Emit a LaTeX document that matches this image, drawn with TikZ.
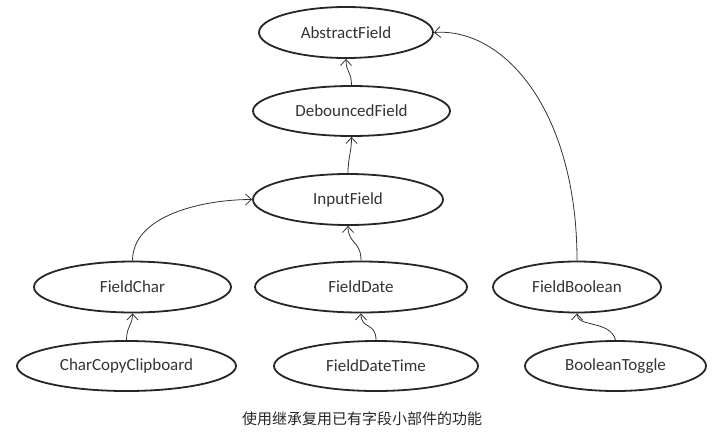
\documentclass[tikz,border=0pt]{standalone}
\usepackage{fontspec}
\setmainfont{Carlito}
\newfontfamily\cjk{Noto Sans CJK SC}
\usetikzlibrary{shapes.geometric,arrows.meta}
\tikzset{
  cls/.style={ellipse, draw=black!85, line width=1.8pt, inner sep=0pt,
    font=\fontsize{17}{19}\selectfont, text=black!80},
  edge/.style={draw=black!80, line width=0.8pt, -{Straight Barb[length=6pt,width=11pt]}},
}
\begin{document}
\begin{tikzpicture}[x=1pt,y=-1pt]
\useasboundingbox (0,0) rectangle (719,432);
\node[cls, minimum width=174pt, minimum height=51pt] (abs) at (346,32.5) {AbstractField};
\node[cls, minimum width=197pt, minimum height=50pt] (deb) at (351.5,111) {DebouncedField};
\node[cls, minimum width=190pt, minimum height=51pt] (inp) at (348,199.5) {InputField};
\node[cls, minimum width=197pt, minimum height=51pt] (fchar) at (132.5,287) {FieldChar};
\node[cls, minimum width=212pt, minimum height=51pt] (fdate) at (361,287) {FieldDate};
\node[cls, minimum width=168pt, minimum height=51pt] (fbool) at (577,287) {FieldBoolean};
\node[cls, minimum width=219pt, minimum height=50pt] (ccc) at (126.5,366) {CharCopyClipboard};
\node[cls, minimum width=204pt, minimum height=50pt] (fdt) at (376,366) {FieldDateTime};
\node[cls, minimum width=181pt, minimum height=50pt] (btog) at (615.5,366) {BooleanToggle};
\node[font=\cjk\fontsize{15}{17}\selectfont, text=black!85] (cap) at (362,419) {使用继承复用已有字段小部件的功能};

\draw[edge] (deb.north) .. controls +(0,-14) and +(0,14) .. (abs.south);
\draw[edge] (inp.north) .. controls +(0,-16) and +(0,16) .. (deb.south);
\draw[edge] (fchar.north) .. controls +(0,-45) and +(-50,0) .. (inp.west);
\draw[edge] (fdate.north) .. controls +(0,-20) and +(0,18) .. (inp.south);
\draw[edge] (fbool.north) .. controls +(0,-150) and +(70,-5) .. (abs.east);
\draw[edge] (ccc.north) .. controls +(0,-14) and +(0,12) .. (fchar.south);
\draw[edge] (fdt.north) .. controls +(0,-18) and +(0,16) .. (fdate.south);
\draw[edge] (btog.north) .. controls +(-5,-20) and +(0,14) .. (fbool.south);
\end{tikzpicture}
\end{document}
